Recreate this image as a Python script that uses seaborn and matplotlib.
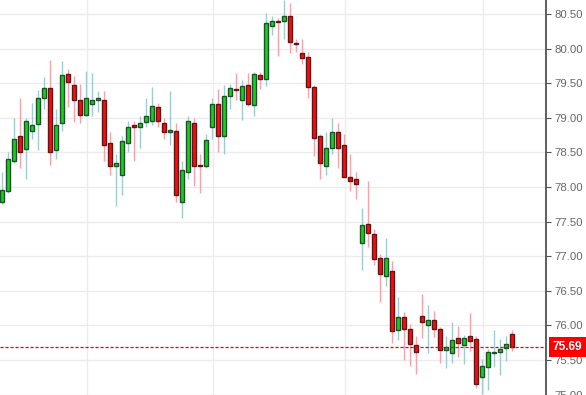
import numpy as np
import pandas as pd
import matplotlib
matplotlib.use("Agg")
import matplotlib.pyplot as plt
import matplotlib.transforms as mtransforms
import seaborn as sns

# ---- data ----
opens = [77.78, 77.94, 78.37, 78.73, 78.55, 78.81, 78.91, 79.29, 79.43, 78.54,
         78.93, 79.64, 79.48, 79.26, 79.04, 79.20, 79.26, 79.26, 78.63, 78.31,
         78.18, 78.64, 78.89, 78.87, 78.94, 78.96, 79.16, 78.93, 78.80, 78.81,
         77.79, 78.21, 78.93, 78.32, 78.31, 78.87, 79.20, 78.73, 79.32, 79.42,
         79.26, 79.48, 79.19, 79.62, 79.56, 80.33, 80.40, 80.40, 80.47, 80.08,
         79.94, 79.88, 79.45, 78.73, 78.31, 78.57, 78.80, 78.60, 78.14, 78.11,
         77.19, 77.46, 77.32, 76.97, 76.72, 76.78, 75.93, 76.12, 75.95, 75.72,
         76.13, 76.01, 76.08, 75.95, 75.64, 75.60, 75.82, 75.72, 75.85, 75.80,
         75.26, 75.40, 75.60, 75.62, 75.67, 75.87]
closes = [77.95, 78.40, 78.70, 78.51, 78.96, 78.90, 79.29, 79.43, 78.51, 78.90,
          79.62, 79.52, 79.26, 79.04, 79.29, 79.26, 79.29, 78.60, 78.31, 78.35,
          78.66, 78.87, 78.87, 78.93, 79.03, 79.17, 78.96, 78.79, 78.83, 77.88,
          78.24, 78.96, 78.31, 78.30, 78.68, 79.20, 78.73, 79.32, 79.43, 79.40,
          79.46, 79.20, 79.64, 79.56, 80.37, 80.40, 80.38, 80.47, 80.10, 80.07,
          79.87, 79.45, 78.71, 78.34, 78.57, 78.80, 78.57, 78.15, 78.08, 78.05,
          77.45, 77.34, 76.96, 76.74, 76.98, 75.92, 76.12, 75.95, 75.73, 75.62,
          76.05, 76.08, 75.95, 75.64, 75.69, 75.79, 75.75, 75.82, 75.77, 75.15,
          75.41, 75.62, 75.62, 75.66, 75.73, 75.69]
highs = [78.21, 78.50, 78.99, 79.29, 78.99, 79.22, 79.40, 79.59, 79.84, 79.12,
         79.82, 79.71, 79.61, 79.49, 79.68, 79.65, 79.39, 79.38, 78.80, 78.47,
         78.73, 78.96, 78.96, 79.02, 79.29, 79.45, 79.22, 79.00, 79.39, 78.93,
         78.37, 79.03, 79.00, 78.47, 78.76, 79.29, 79.42, 79.48, 79.49, 79.65,
         79.55, 79.65, 79.66, 79.66, 80.51, 80.47, 80.44, 80.70, 80.66, 80.14,
         80.14, 79.95, 79.48, 78.76, 78.80, 78.99, 78.93, 78.76, 78.47, 78.21,
         77.69, 78.08, 77.39, 77.03, 77.26, 76.93, 76.41, 76.19, 76.02, 75.85,
         76.45, 76.29, 76.21, 75.98, 75.85, 76.05, 75.99, 75.86, 76.18, 75.85,
         75.51, 75.66, 75.93, 75.80, 75.85, 75.93]
lows = [77.75, 77.92, 78.34, 78.27, 78.11, 78.70, 78.53, 79.12, 78.32, 78.40,
        78.81, 79.16, 78.94, 78.93, 79.03, 79.02, 79.09, 78.37, 78.17, 77.73,
        77.89, 78.50, 78.37, 78.57, 78.86, 78.89, 78.86, 78.70, 78.60, 77.79,
        77.55, 78.12, 78.01, 77.92, 78.28, 78.70, 78.50, 78.48, 79.13, 79.26,
        78.97, 79.17, 79.03, 79.42, 79.46, 80.20, 79.89, 80.14, 79.94, 79.95,
        79.78, 79.28, 78.45, 78.12, 78.17, 78.48, 78.28, 78.14, 77.94, 77.82,
        76.80, 77.14, 76.88, 76.34, 76.57, 75.75, 75.79, 75.50, 75.41, 75.30,
        75.82, 75.60, 75.83, 75.46, 75.38, 75.46, 75.54, 75.44, 75.63, 75.10,
        75.01, 75.07, 75.40, 75.28, 75.49, 75.63]
last_price = 75.69
price_ticks = [75.00, 75.50, 76.00, 76.50, 77.00, 77.50, 78.00, 78.50, 79.00, 79.50, 80.00, 80.50]
tick_labels = ["75.00", "75.50", "76.00", "76.50", "77.00", "77.50", "78.00", "78.50",
               "79.00", "79.50", "80.00", "80.50"]
vgrid_idx = [14, 35, 57, 80]

df = pd.DataFrame({"o": opens, "c": closes, "h": highs, "l": lows})
df["i"] = np.arange(len(df))
df["up"] = df["c"] >= df["o"]

# ---- style ----
sns.set_theme(style="white")
plt.rcParams["font.family"] = ["Liberation Sans", "DejaVu Sans"]

fig = plt.figure(figsize=(5.86, 3.95), dpi=100)
ax = fig.add_axes([0, 0, 546 / 586, 1])

GREEN = "#11d611"
GREEN_EDGE = "#1f4f2c"
RED = "#ff0a0a"
RED_EDGE = "#5e1616"
GWICK = "#9fcbd1"
RWICK = "#f7a3ab"

# grid
for p in price_ticks:
    ax.axhline(p, color="#ececec", lw=1.0, zorder=0)
for g in vgrid_idx:
    ax.axvline(g + 0.1, color="#ececec", lw=1.0, zorder=0)

up = df[df["up"]]
dn = df[~df["up"]]
ax.vlines(up["i"], up["l"], up["h"], color=GWICK, lw=1.0, zorder=1)
ax.vlines(dn["i"], dn["l"], dn["h"], color=RWICK, lw=1.0, zorder=1)

def body(sub, fc, ec):
    bottom = np.minimum(sub["o"], sub["c"])
    height = np.maximum(np.abs(sub["c"] - sub["o"]), 0.012)
    ax.bar(sub["i"], height, bottom=bottom, width=0.66, color=fc,
           edgecolor=ec, linewidth=1.0, zorder=2)

body(up, GREEN, GREEN_EDGE)
body(dn, RED, RED_EDGE)

# last price dashed line
ax.axhline(last_price, color="#ee0000", lw=0.9, ls=(0, (2.5, 1.5)), zorder=3)

ax.set_xlim(-0.383, 90.617)
ax.set_ylim(74.995, 80.702)

ax.yaxis.tick_right()
ax.set_yticks(price_ticks)
ax.set_yticklabels(tick_labels)
ax.tick_params(axis="y", which="both", right=True, left=False, length=3.5,
               width=0.8, color="#555555", labelsize=8.2, labelcolor="#666666", pad=2.5)
ax.set_xticks([])
for s in ["top", "left", "bottom"]:
    ax.spines[s].set_visible(False)
ax.spines["right"].set_color("#444444")
ax.spines["right"].set_linewidth(1.2)

trans = mtransforms.blended_transform_factory(ax.transAxes, ax.transData)
ax.text(1.0125, last_price, "75.69", transform=trans, ha="left", va="center",
        color="white", fontsize=8.6, fontweight="bold", clip_on=False, zorder=5,
        bbox=dict(boxstyle="square,pad=0.32", fc="#ff0000", ec="none"))

fig.savefig("out.png", dpi=100)
